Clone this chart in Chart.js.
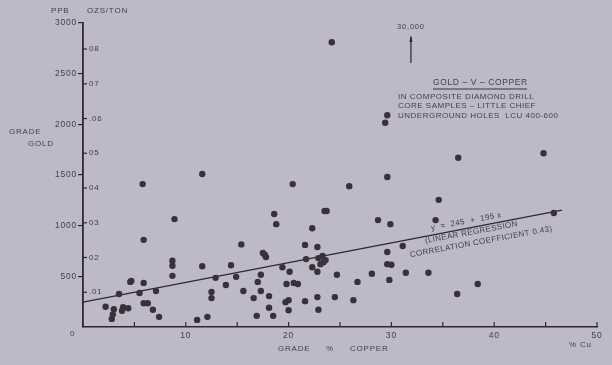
<!DOCTYPE html>
<html>
<head>
<meta charset="utf-8">
<script src="https://cdn.jsdelivr.net/npm/chart.js@4.4.1/dist/chart.umd.min.js"></script>
<style>
  html, body { margin: 0; padding: 0; background: #bdb9c7; }
  canvas { display: block; }
</style>
</head>
<body>
<canvas id="gold-chart" width="612" height="365"></canvas>
<script>
// grade % copper / grade gold (ppb), one entry per composite sample
var copperPct = [0.59, 0.87, 0.87, 0.87, 0.46, 0.47, 0.59, 0.35, 0.55, 0.71, 0.22, 0.30, 0.29, 0.28, 0.39, 0.38, 0.44, 0.59, 0.63, 0.68, 0.74, 1.11, 0.58, 0.89,
    1.54, 2.16, 2.28, 2.23, 1.16, 1.44, 1.75, 1.77, 1.78, 2.17, 2.29, 2.33, 2.34, 2.31, 2.36, 2.96, 2.96, 3.00, 2.98, 1.94, 2.23, 2.28, 2.01, 1.73, 2.47, 2.81,
    1.29, 1.49, 1.70, 1.98, 2.05, 2.09, 2.67, 1.39, 1.25, 1.25, 1.56, 1.73, 1.66, 1.81, 2.28, 2.45, 2.63, 2.16, 1.97, 2.00, 1.81, 2.00, 2.29, 1.21, 1.69, 1.85,
    3.11, 3.14, 3.36, 3.84, 3.64, 2.94, 2.96, 3.65, 4.48, 2.96, 3.46, 3.43, 2.99, 4.58, 2.42, 1.16, 2.04, 2.59, 1.86, 1.88, 2.35, 2.37, 2.87];
var goldPpb = [860, 655, 605, 505, 445, 455, 435, 325, 335, 355, 200, 175, 125, 80, 195, 160, 185, 235, 235, 170, 100, 70, 1410, 1065,
    815, 810, 790, 975, 600, 610, 730, 710, 690, 670, 680, 700, 640, 620, 660, 740, 620, 615, 465, 590, 590, 545, 545, 515, 515, 525,
    485, 495, 445, 425, 435, 425, 445, 415, 345, 285, 355, 355, 285, 305, 295, 295, 265, 255, 245, 265, 190, 165, 170, 100, 110, 110,
    800, 535, 535, 425, 325, 2015, 2090, 1670, 1715, 1480, 1255, 1055, 1015, 1125, 2810, 1510, 1410, 1390, 1115, 1015, 1145, 1145, 1055];

// regression line y = 245 + 195x, ends as drawn
var regCopper = [0, 4.66];
var regGold = [245, 1154];

// sample off the top of the scale
var offScaleCopper = 3.19;
var offScaleLabel = '30,000';

var xTickValues = [1, 2, 3, 4, 5];
var xTickLabels = ['10', '20', '30', '40', '50'];
var yTickValues = [500, 1000, 1500, 2000, 2500, 3000];
var yTickLabels = ['500', '1000', '1500', '2000', '2500', '3000'];
var ozTicks = [0.01, 0.02, 0.03, 0.04, 0.05, 0.06, 0.07, 0.08];
var ozTickLabels = ['.01', '02', '03', '04', '05', '.06', '07', '08'];

var PPB_PER_OZT = 34286; // 1 oz/short ton in ppb

var BG = '#bdb9c7';
var INK = '#2c2732';
var DOT = '#37313d';
var TEXT = '#433e4b';
var FONT = '"Liberation Sans", Arial, sans-serif';

var points = copperPct.map(function(x, i) { return { x: x, y: goldPpb[i] }; });
var regLine = regCopper.map(function(x, i) { return { x: x, y: regGold[i] }; });

function label(ctx, txt, x, y, size) {
    ctx.font = (size || 8) + 'px ' + FONT;
    ctx.fillText(txt, x, y);
}

var decorPlugin = {
    id: 'decor',
    beforeDraw: function(chart) {
        var ctx = chart.ctx;
        ctx.save();
        ctx.fillStyle = BG;
        ctx.fillRect(0, 0, chart.width, chart.height);
        ctx.restore();
        ctx.letterSpacing = '0.8px';
    },
    afterDraw: function(chart) {
        var ctx = chart.ctx;
        var xs = chart.scales.x, oz = chart.scales.oz;
        var left = chart.chartArea.left, bottom = chart.chartArea.bottom;
        ctx.save();
        ctx.strokeStyle = INK;
        ctx.fillStyle = TEXT;
        ctx.lineWidth = 1.2;
        ctx.textBaseline = 'middle';

        // copper ticks point up into the plot
        xs.ticks.forEach(function(t) {
            if (t.value === 0) return;
            var px = xs.getPixelForValue(t.value);
            ctx.beginPath();
            ctx.moveTo(px, bottom);
            ctx.lineTo(px, bottom - 5);
            ctx.stroke();
        });

        // oz/ton scale on the inner side of the gold axis
        ozTicks.forEach(function(v, i) {
            var py = oz.getPixelForValue(v);
            ctx.beginPath();
            ctx.moveTo(left, py);
            ctx.lineTo(left + 4, py);
            ctx.stroke();
            label(ctx, ozTickLabels[i], left + 6, py, 8);
        });

        // axis titles
        label(ctx, 'PPB', 51, 11);
        label(ctx, 'OZS/TON', 87, 11);
        label(ctx, 'GRADE', 9, 132);
        label(ctx, 'GOLD', 28, 144);
        label(ctx, '0', 70, 334);
        label(ctx, 'GRADE', 278, 349);
        label(ctx, '%', 326, 349);
        label(ctx, 'COPPER', 350, 349);
        label(ctx, '% Cu', 569, 345);

        // off-scale arrow
        var ax = xs.getPixelForValue(offScaleCopper);
        ctx.beginPath();
        ctx.moveTo(ax, 63);
        ctx.lineTo(ax, 37);
        ctx.stroke();
        ctx.beginPath();
        ctx.moveTo(ax - 1.5, 42);
        ctx.lineTo(ax, 35);
        ctx.lineTo(ax + 1.5, 42);
        ctx.closePath();
        ctx.fillStyle = INK;
        ctx.fill();
        ctx.fillStyle = TEXT;
        ctx.textAlign = 'center';
        label(ctx, offScaleLabel, ax, 27, 7.5);
        ctx.textAlign = 'left';

        // title block
        ctx.letterSpacing = '0.6px';
        label(ctx, 'GOLD \u2013 V \u2013 COPPER', 433, 83, 8.5);
        ctx.lineWidth = 0.9;
        ctx.beginPath();
        ctx.moveTo(433, 89);
        ctx.lineTo(527, 89);
        ctx.stroke();
        ctx.letterSpacing = '0.5px';
        label(ctx, 'IN COMPOSITE DIAMOND DRILL', 398, 97);
        label(ctx, 'CORE SAMPLES \u2013 LITTLE CHIEF', 398, 106);
        label(ctx, 'UNDERGROUND HOLES  LCU 400-600', 398, 116);

        // regression note, along the line
        var ang = -10.5 * Math.PI / 180;
        ctx.letterSpacing = '0.4px';
        [['y  =  245  +  195 x', 431, 228], ['(LINEAR REGRESSION', 425, 241], ['CORRELATION COEFFICIENT 0.43)', 410, 255]].forEach(function(r) {
            ctx.save();
            ctx.translate(r[1], r[2]);
            ctx.rotate(ang);
            label(ctx, r[0], 0, 0);
            ctx.restore();
        });
        ctx.restore();
    }
};

var chart = new Chart(document.getElementById('gold-chart'), {
    type: 'scatter',
    data: {
        datasets: [{
            data: points,
            backgroundColor: DOT,
            borderWidth: 0,
            pointRadius: 3.2,
            pointHoverRadius: 3.2
        }, {
            data: regLine,
            showLine: true,
            borderColor: INK,
            borderWidth: 1.3,
            pointRadius: 0,
            fill: false
        }]
    },
    options: {
        responsive: false,
        animation: false,
        devicePixelRatio: 1,
        layout: { padding: { left: 43, right: 15, top: 23, bottom: 18 } },
        plugins: { legend: { display: false }, tooltip: { enabled: false } },
        scales: {
            x: {
                type: 'linear',
                min: 0,
                max: 5,
                afterFit: function(s) { s.height = 20; },
                grid: { display: false, drawTicks: false },
                border: { display: true, color: INK, width: 1.5 },
                ticks: {
                    stepSize: 0.5,
                    autoSkip: false,
                    maxRotation: 0,
                    padding: 4,
                    color: TEXT,
                    font: { family: FONT, size: 8.5 },
                    callback: function(v) {
                        var i = xTickValues.indexOf(v);
                        return i < 0 ? '' : xTickLabels[i];
                    }
                }
            },
            y: {
                type: 'linear',
                min: 0,
                max: 3000,
                afterFit: function(s) { s.width = 40; },
                grid: {
                    drawOnChartArea: false,
                    drawTicks: true,
                    tickLength: 5,
                    lineWidth: 1.2,
                    color: function(c) { return c.tick && c.tick.value === 0 ? 'rgba(0,0,0,0)' : INK; }
                },
                border: { display: true, color: INK, width: 1.8 },
                ticks: {
                    stepSize: 500,
                    padding: 1,
                    color: TEXT,
                    font: { family: FONT, size: 8.5 },
                    callback: function(v) {
                        var i = yTickValues.indexOf(v);
                        return i < 0 ? '' : yTickLabels[i];
                    }
                }
            },
            oz: {
                type: 'linear',
                axis: 'y',
                position: 'left',
                display: false,
                min: 0,
                max: 3000 / PPB_PER_OZT
            }
        }
    },
    plugins: [decorPlugin]
});
</script>
</body>
</html>
